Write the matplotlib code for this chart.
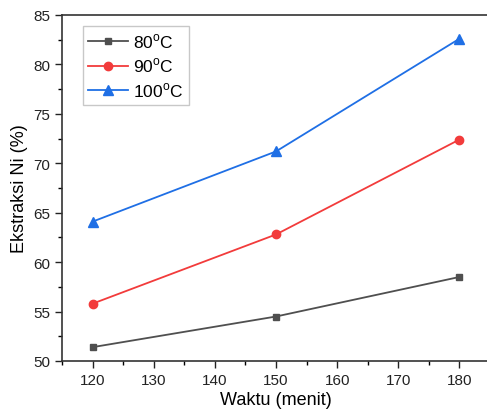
import matplotlib
matplotlib.use("Agg")
import matplotlib.pyplot as plt
from matplotlib.ticker import MultipleLocator

plt.rcParams['font.family'] = ['Liberation Sans', 'DejaVu Sans']
plt.rcParams['mathtext.fontset'] = 'custom'
plt.rcParams['mathtext.rm'] = 'Liberation Sans'

waktu = [120, 150, 180]
ni_80 = [51.4, 54.5, 58.5]
ni_90 = [55.8, 62.8, 72.4]
ni_100 = [64.1, 71.2, 82.6]
labels = ['80$^{\\mathrm{o}}$C', '90$^{\\mathrm{o}}$C', '100$^{\\mathrm{o}}$C']

fig = plt.figure(figsize=(4.87, 4.14), dpi=100)
ax = fig.add_axes([62/487, 52/414, 428/487, 346/414])

ax.plot(waktu, ni_80, color='#4f4f4f', marker='s', markersize=5, lw=1.3, label=labels[0])
ax.plot(waktu, ni_90, color='#f23b3b', marker='o', markersize=6, lw=1.3, label=labels[1])
ax.plot(waktu, ni_100, color='#1f6fe5', marker='^', markersize=6.5, lw=1.3, label=labels[2])

ax.set_xlim(115, 185)
ax.set_ylim(50, 85)
ax.xaxis.set_major_locator(MultipleLocator(10))
ax.xaxis.set_minor_locator(MultipleLocator(5))
ax.yaxis.set_major_locator(MultipleLocator(5))
ax.yaxis.set_minor_locator(MultipleLocator(2.5))
ax.tick_params(which='major', direction='out', length=5, width=1, labelsize=11, colors='#222222')
ax.tick_params(which='minor', direction='out', length=3, width=1)
for s in ax.spines.values():
    s.set_linewidth(1.2)
    s.set_color('#333333')

ax.set_xlabel('Waktu (menit)', fontsize=13, labelpad=3)
ax.set_ylabel('Ekstraksi Ni (%)', fontsize=13, labelpad=4)

leg = ax.legend(loc='upper left', bbox_to_anchor=(21/428, 0.968), fontsize=12.5,
                frameon=True, fancybox=False, edgecolor='#bbbbbb',
                handlelength=2.3, handletextpad=0.3, labelspacing=0.35,
                borderpad=0.3, borderaxespad=0)
leg.get_frame().set_linewidth(1.0)

fig.savefig('out.png', dpi=100)
